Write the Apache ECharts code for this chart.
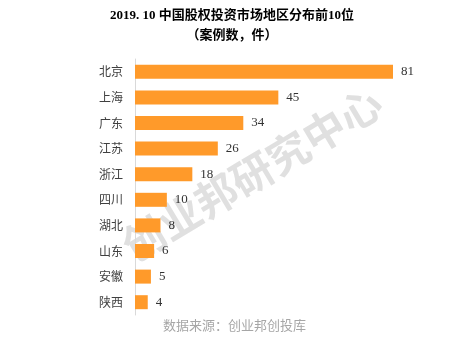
<!DOCTYPE html>
<html>
<head>
<meta charset="utf-8">
<script src="https://cdn.jsdelivr.net/npm/echarts@6/dist/echarts.min.js"></script>
<style>
  html, body { margin: 0; padding: 0; background: #fff; }
  #chart { width: 464px; height: 345px; }
</style>
</head>
<body>
<div id="chart"></div>
<script>
// 数据
var regions = ["北京", "上海", "广东", "江苏", "浙江", "四川", "湖北", "山东", "安徽", "陕西"];
var caseCounts = [81, 45, 34, 26, 18, 10, 8, 6, 5, 4];
var titleText = "2019. 10 中国股权投资市场地区分布前10位\n（案例数，件）";
var sourceText = "数据来源：创业邦创投库";
var watermarkText = "创业邦研究中心";

var myChart = echarts.init(document.getElementById("chart"));

var option = {
  backgroundColor: "#fff",
  animation: false,
  title: {
    text: titleText,
    left: "center",
    top: 1,
    textStyle: {
      fontFamily: "Liberation Serif, Noto Sans CJK SC",
      fontSize: 13,
      fontWeight: "bold",
      color: "#000",
      lineHeight: 20
    }
  },
  grid: {
    left: 135,
    right: 71,
    top: 59,
    bottom: 30
  },
  xAxis: {
    type: "value",
    min: 0,
    max: 81,
    show: false
  },
  yAxis: {
    type: "category",
    inverse: true,
    data: regions,
    axisLine: { show: true, lineStyle: { color: "#d9d9d9", width: 1 } },
    axisTick: { show: false },
    axisLabel: {
      margin: 12,
      fontSize: 12,
      color: "#404040",
      fontFamily: "Noto Sans CJK SC"
    }
  },
  series: [
    {
      name: "案例数",
      type: "bar",
      data: caseCounts,
      barWidth: 14,
      itemStyle: { color: "#FF9A2A" },
      label: {
        show: true,
        position: "right",
        distance: 8,
        fontSize: 13,
        color: "#333",
        fontFamily: "Liberation Serif"
      },
      z: 2
    }
  ],
  graphic: [
    {
      type: "text",
      left: 163,
      top: 319,
      style: {
        text: sourceText,
        fontSize: 13,
        fill: "#a6a6a6",
        fontFamily: "Noto Sans CJK SC"
      }
    },
    {
      type: "text",
      x: 252,
      y: 174,
      rotation: 0.54,
      z: -1,
      style: {
        text: watermarkText,
        fontSize: 42,
        fontWeight: "bold",
        fill: "#e0e0e0",
        fontFamily: "Noto Sans CJK SC",
        align: "center",
        verticalAlign: "middle"
      }
    }
  ]
};

myChart.setOption(option);
</script>
</body>
</html>
